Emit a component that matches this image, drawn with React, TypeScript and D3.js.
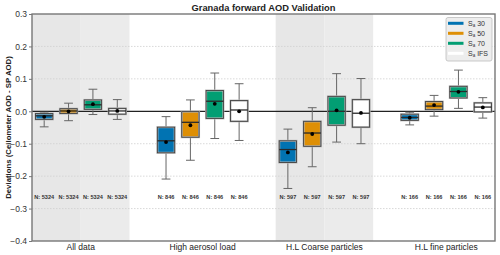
import * as d3 from "d3"
import { useEffect, useRef } from "react"

// box stats per group: [whisker low, q1, median, q3, whisker high, mean]
const groups = ["All data", "High aerosol load", "H.L Coarse particles", "H.L fine particles"]
const counts = [5324, 846, 597, 166]
const seriesNames = ["30", "50", "70", "IFS"]
const seriesColors = ["#0173B2", "#DE8F05", "#029E73", "#FFFFFF"]

const sa30 = [
  [-0.048, -0.025, -0.014, -0.007, -0.003, -0.017],
  [-0.209, -0.128, -0.091, -0.049, -0.0165, -0.095],
  [-0.238, -0.158, -0.118, -0.091, -0.055, -0.127],
  [-0.042, -0.028, -0.019, -0.009, -0.003, -0.02],
]
const sa50 = [
  [-0.029, -0.007, 0.001, 0.008, 0.025, 0.0],
  [-0.151, -0.08, -0.034, -0.001, 0.035, -0.043],
  [-0.171, -0.108, -0.067, -0.031, 0.011, -0.07],
  [-0.015, 0.005, 0.016, 0.03, 0.049, 0.019],
]
const sa70 = [
  [-0.01, 0.006, 0.02, 0.035, 0.068, 0.022],
  [-0.084, -0.022, 0.031, 0.064, 0.118, 0.023],
  [-0.095, -0.043, 0.0, 0.046, 0.116, 0.003],
  [0.009, 0.041, 0.061, 0.077, 0.127, 0.06],
]
const saIFS = [
  [-0.025, -0.009, 0.001, 0.009, 0.036, 0.001],
  [-0.09, -0.031, 0.004, 0.033, 0.085, 0.0],
  [-0.1, -0.049, -0.006, 0.036, 0.101, -0.005],
  [-0.021, -0.002, 0.013, 0.026, 0.042, 0.012],
]
const allSeries = [sa30, sa50, sa70, saIFS]

const yTicks = [0.3, 0.2, 0.1, 0.0, -0.1, -0.2, -0.3, -0.4]
const gridTicks = [0.2, 0.1, -0.1, -0.2, -0.3]
const shadedGroups = [0, 2]

const width = 500
const height = 255
const marginLeft = 32
const marginRight = 5
const marginTop = 14
const marginBottom = 14
const font = "'Liberation Sans', Arial, sans-serif"

export default function App() {
  const gy = useRef<SVGGElement>(null)

  const x = d3.scaleLinear([-0.4, 3.4], [marginLeft, width - marginRight])
  const y = d3.scaleLinear([-0.4, 0.3], [height - marginBottom, marginTop])
  const step = 0.2
  const boxW = x(0.142) - x(0)
  const capW = x(0.072) - x(0)

  useEffect(() => {
    document.body.style.margin = "0"
    if (gy.current) {
      const axis = d3
        .axisLeft(y)
        .tickValues(yTicks)
        .tickSize(3)
        .tickPadding(2)
        .tickFormat((d) => d3.format(".1f")(d as number))
      const g = d3.select(gy.current)
      g.call(axis)
      g.select(".domain").remove()
      g.selectAll(".tick line").attr("stroke", "#777")
      g.selectAll(".tick text")
        .attr("fill", "#333")
        .attr("font-size", 8.5)
        .attr("font-family", font)
    }
  }, [])

  return (
    <svg
      width={width}
      height={height}
      style={{ position: "fixed", left: 0, top: 0, background: "#fff" }}
      fontFamily={font}
    >
      {/* shaded groups, split at the group centre */}
      {shadedGroups.map((gi) => (
        <g key={gi}>
          <rect x={x(gi - 0.4)} y={marginTop} width={x(gi) - x(gi - 0.4)} height={y(-0.4) - marginTop} fill="#e7e7e7" />
          <rect x={x(gi)} y={marginTop} width={x(gi + 0.4) - x(gi)} height={y(-0.4) - marginTop} fill="#ebebeb" />
        </g>
      ))}

      {gridTicks.map((t) => (
        <line key={t} x1={marginLeft} x2={width - marginRight} y1={y(t)} y2={y(t)} stroke="#cfcfcf" strokeWidth={0.8} strokeDasharray="1.5,1.5" />
      ))}

      <line x1={marginLeft} x2={width - marginRight} y1={y(0)} y2={y(0)} stroke="#222" strokeWidth={1.2} />

      {allSeries.map((series, si) =>
        series.map((s, gi) => {
          const cx = x(gi + (si - 1.5) * step)
          const [lo, q1, med, q3, hi, mean] = s
          return (
            <g key={`${si}-${gi}`}>
              <line x1={cx} x2={cx} y1={y(hi)} y2={y(q3)} stroke="#666" strokeWidth={1} />
              <line x1={cx} x2={cx} y1={y(q1)} y2={y(lo)} stroke="#666" strokeWidth={1} />
              <line x1={cx - capW / 2} x2={cx + capW / 2} y1={y(hi)} y2={y(hi)} stroke="#666" strokeWidth={1} />
              <line x1={cx - capW / 2} x2={cx + capW / 2} y1={y(lo)} y2={y(lo)} stroke="#666" strokeWidth={1} />
              <rect x={cx - boxW / 2} y={y(q3)} width={boxW} height={y(q1) - y(q3)} fill={seriesColors[si]} stroke="#b8b8b8" strokeWidth={2} />
              <rect x={cx - boxW / 2} y={y(q3)} width={boxW} height={y(q1) - y(q3)} fill="none" stroke="#404040" strokeWidth={0.9} />
              <line x1={cx - boxW / 2} x2={cx + boxW / 2} y1={y(med)} y2={y(med)} stroke="#2a2a2a" strokeWidth={1.3} />
              <circle cx={cx} cy={y(mean)} r={1.9} fill="#000" />
              <text x={cx} y={y(-0.27)} textAnchor="middle" fontSize={5.6} fontWeight="bold" fill="#333">
                {`N: ${counts[gi]}`}
              </text>
            </g>
          )
        })
      )}

      {/* plot frame */}
      <rect x={marginLeft} y={marginTop} width={width - marginRight - marginLeft} height={y(-0.4) - marginTop} fill="none" stroke="#777" strokeWidth={1.4} />

      <g ref={gy} transform={`translate(${marginLeft},0)`} />

      {groups.map((g, gi) => (
        <text key={g} x={x(gi)} y={height - 5} textAnchor="middle" fontSize={8.5} fill="#222">
          {g}
        </text>
      ))}

      <text x={(marginLeft + width - marginRight) / 2} y={10.5} textAnchor="middle" fontSize={9.3} fontWeight="bold" fill="#222">
        Granada forward AOD Validation
      </text>

      <text
        transform={`translate(11,${(marginTop + y(-0.4)) / 2}) rotate(-90)`}
        textAnchor="middle"
        fontSize={7.8}
        fontWeight="bold"
        fill="#222"
      >
        Deviations (Ceilometer AOD - SP AOD)
      </text>

      {/* legend */}
      <g transform="translate(446,17.5)">
        <rect width={46} height={43.5} rx={2} fill="#ebebeb" fillOpacity={0.9} stroke="#bdbdbd" strokeWidth={0.8} />
        {seriesNames.map((n, i) => (
          <g key={n} transform={`translate(0,${5.8 + i * 10})`}>
            <line x1={2} x2={17.5} y1={0} y2={0} stroke={seriesColors[i]} strokeWidth={3} />
            <text x={22} y={2.6} fontSize={7} fill="#333">
              <tspan>S</tspan>
              <tspan dy={1.5} fontSize={4.5}>a</tspan>
              <tspan dy={-1.5}>{` ${n}`}</tspan>
            </text>
          </g>
        ))}
      </g>
    </svg>
  )
}
